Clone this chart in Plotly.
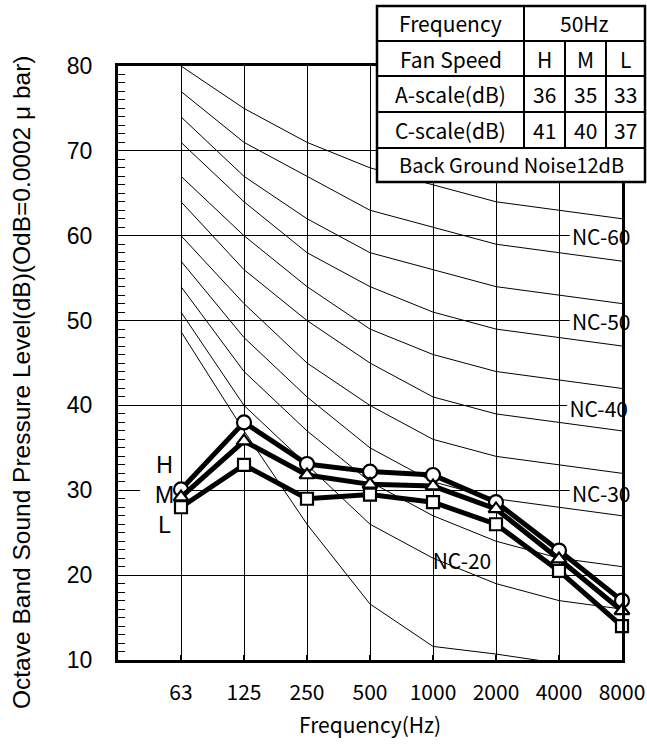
import plotly.graph_objects as go

# ---------------- data ----------------
freq_labels = ["63", "125", "250", "500", "1000", "2000", "4000", "8000"]
h_values = [30.1, 38.0, 33.1, 32.2, 31.8, 28.6, 22.9, 17.0]
m_values = [29.2, 35.8, 31.8, 30.7, 30.5, 27.8, 21.9, 15.8]
l_values = [28.0, 33.0, 29.0, 29.5, 28.6, 26.0, 20.5, 14.0]

nc_15x = [48.7, 37.0, 26.0, 16.6, 11.6, 10.7, 9.6, 9.0]
nc_20 = [51, 40, 33, 26, 22, 19, 17, 16]
nc_25 = [54, 44, 37, 31, 27, 24, 22, 21]
nc_30 = [57, 48, 41, 35, 31, 29, 28, 27]
nc_35 = [60, 52, 45, 40, 36, 34, 33, 32]
nc_40 = [64, 56, 50, 45, 41, 39, 38, 37]
nc_45 = [67, 60, 54, 49, 46, 44, 43, 42]
nc_50 = [71, 64, 58, 54, 51, 49, 48, 47]
nc_55 = [74, 67, 62, 58, 56, 54, 53, 52]
nc_60 = [77, 71, 67, 63, 61, 59, 58, 57]
nc_65 = [80, 75, 71, 68, 66, 64, 63, 62]
nc_curves = [nc_15x, nc_20, nc_25, nc_30, nc_35, nc_40, nc_45, nc_50, nc_55, nc_60, nc_65]

nc_label_text = ["NC-60", "NC-50", "NC-40", "NC-30", "NC-20"]
nc_label_x = [6.67, 6.67, 6.63, 6.67, 4.46]
nc_label_y = [59.5, 49.5, 39.3, 29.2, 21.4]

speed_labels = ["H", "M", "L"]
speed_label_y = [32.75, 29.2, 25.7]

y_tick_vals = [10, 20, 30, 40, 50, 60, 70, 80]

x_title = "Frequency(Hz)"
y_title = "Octave Band Sound Pressure Level(dB)(OdB=0.0002 μ bar)"

table_header = ["Frequency", "50Hz"]
table_speed = ["Fan Speed", "H", "M", "L"]
table_a = ["A-scale(dB)", 36, 35, 33]
table_c = ["C-scale(dB)", 41, 40, 37]
table_footer = "Back Ground Noise12dB"

# ---------------- geometry (page pixels) ----------------
W, H = 647, 745
PL, PR, PT, PB = 118, 622, 66, 660
x_idx = list(range(len(freq_labels)))


def px(xp):
    return (xp - PL) / (PR - PL)


def py(yp):
    return (PB - yp) / (PB - PT)


JP = "Noto Sans CJK JP"
AR = "Liberation Sans, Arial"

fig = go.Figure()

for curve in nc_curves:
    fig.add_trace(go.Scatter(x=x_idx, y=curve, mode="lines",
                             line=dict(color="black", width=1),
                             showlegend=False, hoverinfo="skip"))

series = [(h_values, "circle", 14), (m_values, "triangle-up", 13), (l_values, "square", 12)]
for vals, sym, sz in series:
    fig.add_trace(go.Scatter(x=x_idx, y=vals, mode="lines+markers",
                             line=dict(color="black", width=5),
                             marker=dict(symbol=sym, size=sz, color="white",
                                         line=dict(color="black", width=2.2)),
                             cliponaxis=False, showlegend=False))

fig.add_trace(go.Scatter(x=nc_label_x, y=nc_label_y, mode="text",
                         text=nc_label_text, textposition="middle center",
                         textfont=dict(family=JP, size=21, color="black"),
                         cliponaxis=False, showlegend=False, hoverinfo="skip"))

fig.add_trace(go.Scatter(x=[-0.26] * 3, y=speed_label_y, mode="text",
                         text=speed_labels, textposition="middle center",
                         textfont=dict(family=AR, size=23, color="black"),
                         cliponaxis=False, showlegend=False, hoverinfo="skip"))

shapes = []
# white backgrounds behind labels (above gridlines, below traces)
for lx, ly in zip(nc_label_x[:4], nc_label_y[:4]):
    shapes.append(dict(type="rect", xref="x", yref="y", layer="between",
                       x0=lx - 0.5, x1=lx + 0.5, y0=ly - 1.1, y1=ly + 1.1,
                       fillcolor="white", line=dict(width=0)))
shapes.append(dict(type="rect", xref="x", yref="y", layer="between",
                   x0=-0.65, x1=-0.02, y0=24.0, y1=34.5,
                   fillcolor="white", line=dict(width=0)))

# table (page pixel positions)
cols = [377, 524, 565, 606, 645]
rows = [6, 41, 76, 112, 148, 182]
shapes.append(dict(type="rect", xref="paper", yref="paper", layer="above",
                   x0=px(cols[0]), x1=px(cols[-1]), y0=py(rows[-1]), y1=py(rows[0]),
                   fillcolor="white", line=dict(color="black", width=2.5)))
for r in rows[1:-1]:
    shapes.append(dict(type="line", xref="paper", yref="paper", layer="above",
                       x0=px(cols[0]), x1=px(cols[-1]), y0=py(r), y1=py(r),
                       line=dict(color="black", width=2)))
shapes.append(dict(type="line", xref="paper", yref="paper", layer="above",
                   x0=px(cols[1]), x1=px(cols[1]), y0=py(rows[4]), y1=py(rows[0]),
                   line=dict(color="black", width=2)))
for c in cols[2:4]:
    shapes.append(dict(type="line", xref="paper", yref="paper", layer="above",
                       x0=px(c), x1=px(c), y0=py(rows[4]), y1=py(rows[1]),
                       line=dict(color="black", width=2)))

annotations = []


def cell_text(text, x0, x1, y0, y1, size=21):
    annotations.append(dict(text=str(text), xref="paper", yref="paper",
                            x=px((x0 + x1) / 2), y=py((y0 + y1) / 2),
                            xanchor="center", yanchor="middle", showarrow=False,
                            font=dict(family=JP, size=size, color="black")))


cell_text(table_header[0], cols[0], cols[1], rows[0], rows[1])
cell_text(table_header[1], cols[1], cols[4], rows[0], rows[1])
for ri, rowdata in zip([1, 2, 3], [table_speed, table_a, table_c]):
    for ci, val in enumerate(rowdata):
        cell_text(val, cols[ci], cols[ci + 1], rows[ri], rows[ri + 1])
cell_text(table_footer, cols[0], cols[4], rows[4], rows[5], size=20)

# axis titles
annotations.append(dict(text=x_title, xref="paper", yref="paper",
                        x=px(370), y=py(724), xanchor="center", yanchor="middle",
                        showarrow=False, font=dict(family=JP, size=21, color="black")))
annotations.append(dict(text=y_title, xref="paper", yref="paper", textangle=-90,
                        x=px(21), y=py(382), xanchor="center", yanchor="middle",
                        showarrow=False, borderpad=0,
                        font=dict(family=AR, size=24.5, color="black")))

fig.update_layout(
    width=W, height=H,
    margin=dict(l=PL, r=W - PR, t=PT, b=H - PB, autoexpand=False),
    paper_bgcolor="white", plot_bgcolor="white",
    shapes=shapes, annotations=annotations,
    showlegend=False,
)

fig.update_xaxes(
    range=[-1, 7], tickmode="array", tickvals=x_idx, ticktext=freq_labels,
    showgrid=True, gridcolor="black", gridwidth=1,
    ticks="inside", ticklen=5, tickwidth=2, tickcolor="black",
    showline=True, linecolor="black", linewidth=3, mirror=True,
    zeroline=False, ticklabelstandoff=12, automargin=False,
    tickfont=dict(family=JP, size=21, color="black"),
)
fig.update_yaxes(
    range=[10, 80], tickmode="array", tickvals=y_tick_vals,
    showgrid=True, gridcolor="black", gridwidth=1,
    ticks="inside", ticklen=7, tickwidth=1, tickcolor="black",
    minor=dict(dtick=1, ticks="inside", ticklen=7, tickwidth=1, tickcolor="black", showgrid=False),
    showline=True, linecolor="black", linewidth=3, mirror=True,
    zeroline=False, ticklabelstandoff=18, automargin=False,
    tickfont=dict(family=AR, size=23, color="black"),
)

# the page body's default 8px margin would shift the figure; remove it
fig.write_html("out.html", config={"displayModeBar": False},
               post_script="document.body.style.margin='0';")
